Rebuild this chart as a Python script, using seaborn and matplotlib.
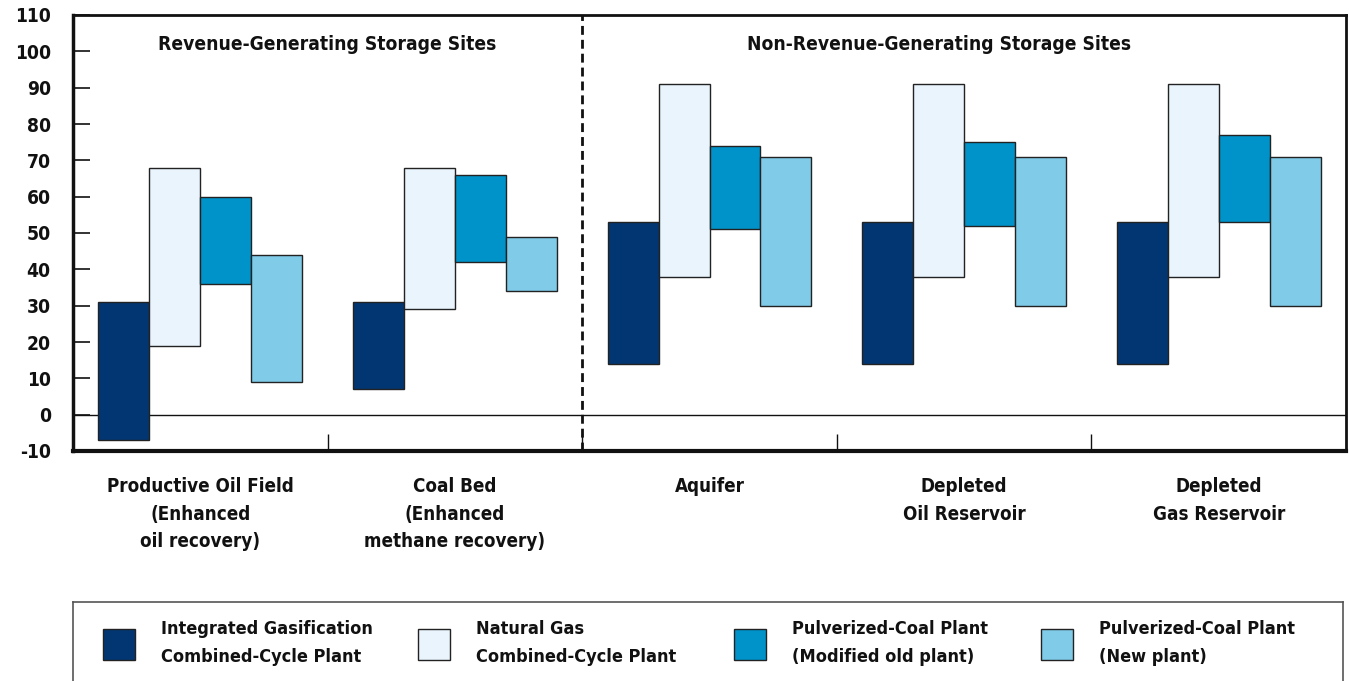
import numpy as np
import pandas as pd
import seaborn as sns
import matplotlib
matplotlib.use("Agg")
import matplotlib.pyplot as plt
from matplotlib.patches import Patch
from matplotlib.legend import Legend
from matplotlib import font_manager as fm

# ---------------- data ----------------
sites = ["Productive Oil Field\n(Enhanced\noil recovery)",
         "Coal Bed\n(Enhanced\nmethane recovery)",
         "Aquifer",
         "Depleted\nOil Reservoir",
         "Depleted\nGas Reservoir"]
plants = ["Integrated Gasification\nCombined-Cycle Plant",
          "Natural Gas\nCombined-Cycle Plant",
          "Pulverized-Coal Plant\n(Modified old plant)",
          "Pulverized-Coal Plant\n(New plant)"]
igcc_low = [-7, 7, 14, 14, 14]
igcc_high = [31, 31, 53, 53, 53]
ngcc_low = [19, 29, 38, 38, 38]
ngcc_high = [68, 68, 91, 91, 91]
pcmod_low = [36, 42, 51, 52, 53]
pcmod_high = [60, 66, 74, 75, 77]
pcnew_low = [9, 34, 30, 30, 30]
pcnew_high = [44, 49, 71, 71, 71]
section_labels = ["Revenue-Generating Storage Sites",
                  "Non-Revenue-Generating Storage Sites"]
yticks = list(range(-10, 111, 10))

colors = ["#023672", "#EAF4FC", "#0093C9", "#7FCBE8"]

lows = [igcc_low, ngcc_low, pcmod_low, pcnew_low]
highs = [igcc_high, ngcc_high, pcmod_high, pcnew_high]
rows = []
for p, lo, hi in zip(plants, lows, highs):
    for s, l, h in zip(sites, lo, hi):
        rows.append({"site": s, "plant": p, "low": l, "high": h, "span": h - l})
df = pd.DataFrame(rows)

# ---------------- style ----------------
sns.set_theme(style="white")
names = {f.name for f in fm.fontManager.ttflist}
fams = [n for n in ["Liberation Sans Narrow", "DejaVu Sans Condensed", "DejaVu Sans"] if n in names]
plt.rcParams["font.family"] = fams + ["DejaVu Sans"]
plt.rcParams["font.weight"] = "bold"
plt.rcParams["font.stretch"] = "condensed"

W, H = 1349, 681
fig = plt.figure(figsize=(W / 100, H / 100), dpi=100)
ax = fig.add_axes([73 / W, (H - 451) / H, (1346 - 73) / W, (451 - 15) / H])

sns.barplot(data=df, x="site", y="span", hue="plant", order=sites, hue_order=plants,
            palette=colors, saturation=1, width=0.8, gap=0, errorbar=None,
            edgecolor="#222222", linewidth=1, legend=False, ax=ax)

# float bars: move each bar's base to its low value
for cont, lo in zip(ax.containers, lows):
    for bar, l in zip(cont, lo):
        bar.set_y(l)

ax.set_ylim(-10, 110)
ax.set_xlim(-0.5, 4.5)
ax.set_yticks(yticks)
ax.set_yticklabels([str(v) for v in yticks], fontsize=13.8, fontweight="bold")
ax.set_xticks(range(len(sites)))
ax.set_xticklabels(sites, fontsize=13.5, fontweight="bold", linespacing=1.55)
ax.set_xticks([0.5, 1.5, 2.5, 3.5], minor=True)
ax.set_xlabel("")
ax.set_ylabel("")
ax.tick_params(axis="y", which="major", direction="in", length=12, width=1.2,
               left=True, pad=16, colors="#111111")
ax.tick_params(axis="x", which="major", length=0, pad=19, colors="#111111")
ax.tick_params(axis="x", which="minor", direction="in", length=12, width=1,
               bottom=True, color="#111111")

for side, lw in [("left", 2.5), ("bottom", 3), ("top", 2), ("right", 2)]:
    ax.spines[side].set_visible(True)
    ax.spines[side].set_linewidth(lw)
    ax.spines[side].set_color("#111111")

ax.axhline(0, color="#111111", lw=1, zorder=0.5)
ax.axvline(1.5, color="#111111", lw=2, ls=(0, (3.2, 1.8)))

ax.text(0.5, 102, section_labels[0], ha="center", va="center", fontsize=13.8,
        fontweight="bold", color="#111111")
ax.text(2.9, 102, section_labels[1], ha="center", va="center", fontsize=13.8,
        fontweight="bold", color="#111111")

# ---------------- legend box ----------------
ax_leg = fig.add_axes([73 / W, -0.1, (1343 - 73) / W, (H - 602) / H + 0.1])
ax_leg.set_xticks([])
ax_leg.set_yticks([])
ax_leg.patch.set_alpha(0)
for side in ["top", "left", "right"]:
    ax_leg.spines[side].set_visible(True)
    ax_leg.spines[side].set_linewidth(1.2)
    ax_leg.spines[side].set_color("#555555")
ax_leg.spines["bottom"].set_visible(False)

leg_x = [103, 418, 734, 1041]
for i, (p, c) in enumerate(zip(plants, colors)):
    leg = Legend(ax_leg, [Patch(facecolor=c, edgecolor="#222222", linewidth=1)], [p],
                 loc="center left", bbox_to_anchor=(leg_x[i] / W, (H - 643) / H),
                 bbox_transform=fig.transFigure, frameon=False,
                 handlelength=1.75, handleheight=2.25, handletextpad=1.45,
                 borderpad=0, borderaxespad=0,
                 prop={"size": 13, "weight": "bold", "stretch": "condensed"})
    for t in leg.get_texts():
        t.set_linespacing(1.7)
        t.set_color("#111111")
    ax_leg.add_artist(leg)

fig.savefig("out.png", dpi=100)
